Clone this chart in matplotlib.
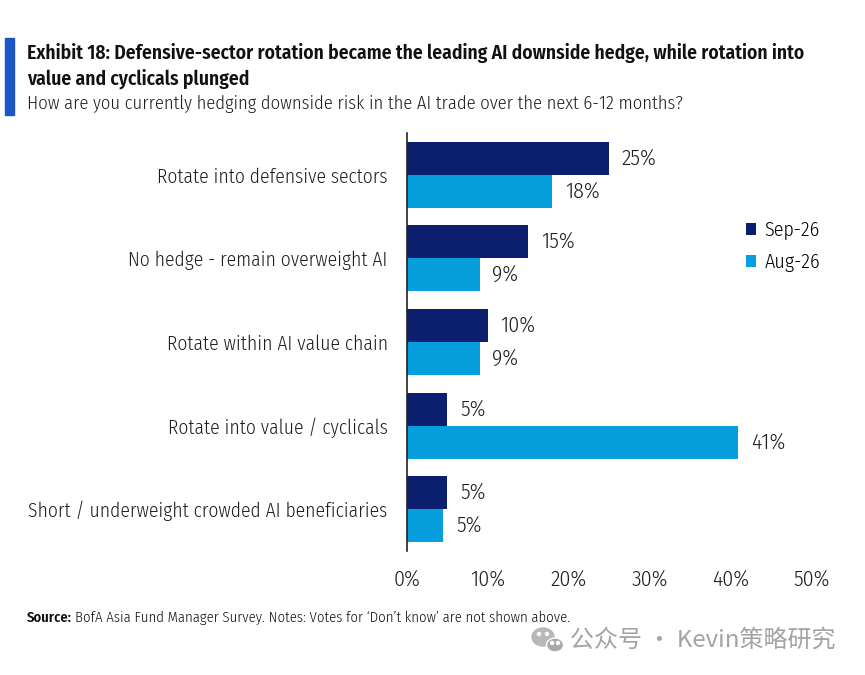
import matplotlib.pyplot as plt
from matplotlib.patches import Rectangle, Ellipse
from matplotlib.font_manager import fontManager, FontProperties

categories = ["Rotate into defensive sectors", "No hedge - remain overweight AI",
              "Rotate within AI value chain", "Rotate into value / cyclicals",
              "Short / underweight crowded AI beneficiaries"]
sep26 = [25, 15, 10, 5, 5]
aug26 = [18, 9, 9, 41, 4.5]
series_names = ["Sep-26", "Aug-26"]
xticks = [0, 10, 20, 30, 40, 50]


def pick(cands):
    # first font file matching (name, weight, stretch)
    for name, w, st in cands:
        for f in fontManager.ttflist:
            if f.name == name and f.weight == w and (st is None or f.stretch == st) and f.style == 'normal':
                return f.fname
    return None

light = pick([("Fira Sans Condensed", 300, None), ("Open Sans", 300, "condensed"),
              ("IBM Plex Sans Condensed", 300, None)])
bold = pick([("Fira Sans Condensed", 600, None), ("Open Sans Condensed", 700, None),
             ("IBM Plex Sans Condensed", 600, None)])


def fp(path, size):
    if path:
        return FontProperties(fname=path, size=size)
    return FontProperties(family='DejaVu Sans', size=size)


def pct(v):
    return f"{int(v + 0.5)}%"


navy = "#0b1f6e"
sky = "#069edd"
txt = "#1e1e1e"

fig = plt.figure(figsize=(8.65, 6.75), dpi=100)
ax = fig.add_axes([406.7/865, 1-551/675, 404.5/865, 418/675])

h = 0.395
ys = list(range(len(categories)))
ax.barh([y - h/2 for y in ys], sep26, height=h, color=navy, label=series_names[0])
ax.barh([y + h/2 for y in ys], aug26, height=h, color=sky, label=series_names[1])
vals = []
for y, a, b in zip(ys, sep26, aug26):
    vals.append(ax.text(a + 1.6, y - h/2, pct(a), va='center', ha='left', fontproperties=fp(light, 15), color=txt))
    vals.append(ax.text(b + 1.6, y + h/2, pct(b), va='center', ha='left', fontproperties=fp(light, 15), color=txt))

ax.set_ylim(len(categories) - 0.5, -0.5)
ax.set_xlim(0, 50)
ax.set_yticks(ys)
ax.set_yticklabels(categories, fontproperties=fp(light, 15), color=txt)
ax.set_xticks(xticks)
ax.set_xticklabels([f"{t}%" for t in xticks], fontproperties=fp(light, 15), color=txt)
for s in ['top', 'right', 'bottom']:
    ax.spines[s].set_visible(False)
ax.spines['left'].set_color('#222222')
ax.spines['left'].set_linewidth(1.2)
ax.tick_params(axis='both', length=0)
ax.tick_params(axis='y', pad=13.7)
ax.tick_params(axis='x', pad=12.5)

leg = ax.legend(loc='upper left', bbox_to_anchor=((746-406.7)/404.5, (551-221)/418), frameon=False,
                prop=fp(light, 15), handlelength=0.5, handleheight=0.5, handletextpad=0.4,
                labelspacing=0.6, borderaxespad=0, borderpad=0)

fig.patches.append(Rectangle((5/865, 1-115/675), 9/865, 77/675, transform=fig.transFigure,
                             color="#1a56c8", zorder=5))
t1 = fig.text(27/865, 1-53/675, "Exhibit 18: Defensive-sector rotation became the leading AI downside hedge, while rotation into",
              fontproperties=fp(bold, 14), va='center', color='#111111')
t2 = fig.text(27/865, 1-79/675, "value and cyclicals plunged",
              fontproperties=fp(bold, 14), va='center', color='#111111')
t3 = fig.text(27/865, 1-103.5/675, "How are you currently hedging downside risk in the AI trade over the next 6-12 months?",
              fontproperties=fp(light, 14), va='center', color=txt)
src_b = fig.text(27/865, 1-618/675, "Source:", fontproperties=fp(bold, 10), va='center', color='#111111')
src = fig.text(75/865, 1-618/675, "BofA Asia Fund Manager Survey. Notes: Votes for \u2018Don\u2019t know\u2019 are not shown above.",
               fontproperties=fp(light, 10), va='center', color='#111111')
wm = fig.text(835/865, 1-640/675, "公众号 · Kevin策略研究", fontsize=14.5, va='center', ha='right',
              color='#a3a3a3', family=['Noto Sans CJK SC', 'DejaVu Sans'])

# fit texts to reference widths
fig.canvas.draw()
r = fig.canvas.get_renderer()


def fit(t, width):
    w = t.get_window_extent(r).width
    t.set_fontsize(t.get_fontsize() * width / w)

fit(t1, 778)
t2.set_fontsize(t1.get_fontsize())
fit(t3, 660)
fit(src_b, 45)
fit(src, 496)
fit(wm, 265)
s = 15 * 358 / ax.get_yticklabels()[-1].get_window_extent(r).width
for l in ax.get_yticklabels():
    l.set_fontsize(s)
sn = 15 * 35 / ax.get_xticklabels()[1].get_window_extent(r).width
for l in ax.get_xticklabels():
    l.set_fontsize(sn)
for v in vals:
    v.set_fontsize(sn)
for l in leg.get_texts():
    l.set_fontsize(s * 1.03)

# wechat icon
fig.patches.append(Ellipse((543/865, 1-637/675), 22/865, 18/675, transform=fig.transFigure, color='#b8b8b8'))
fig.patches.append(Ellipse((555/865, 1-645/675), 17/865, 14/675, transform=fig.transFigure, color='#a9a9a9',
                           ec='white', lw=1.0))
for (ex, ey) in [(539, 634), (547, 634), (552, 643), (558, 643)]:
    fig.patches.append(Ellipse((ex/865, 1-ey/675), 3/865, 3/675, transform=fig.transFigure, color='white'))

fig.savefig("out.png", dpi=100)
